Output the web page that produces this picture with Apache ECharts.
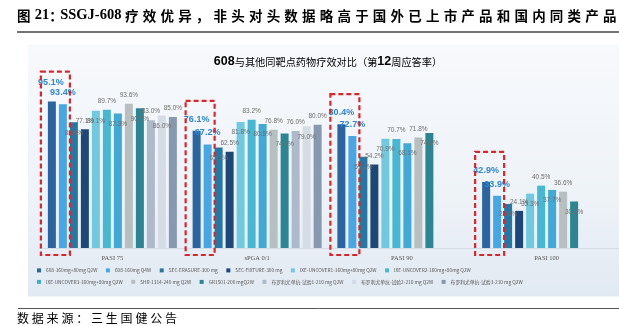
<!DOCTYPE html>
<html>
<head>
<meta charset="utf-8">
<script src="https://cdn.jsdelivr.net/npm/echarts@6/dist/echarts.min.js"></script>
<style>
  html, body { margin: 0; padding: 0; background: #ffffff; }
  #chart { width: 619px; height: 326px; }
</style>
</head>
<body>
<div id="chart"></div>
<script>
// Week-12 response rates (%) by endpoint
const categories = ['PASI 75', 'sPGA 0/1', 'PASI 90', 'PASI 100'];

const seriesNames = [
  '608-160mg+80mg Q2W',
  '608-160mg Q4W',
  'SEC-ERASURE-300 mg',
  'SEC-FIXTURE-300 mg',
  'IXE-UNCOVER1-160mg+80mg Q2W',
  'IXE-UNCOVER2-160mg+80mg Q2W',
  'IXE-UNCOVER3-160mg+80mg Q2W',
  'SHR-1314-240 mg Q2W',
  'GR1501-200 mgQ2W',
  '布罗利尤单抗-试验1-210 mg Q2W',
  '布罗利尤单抗-试验2-210 mg Q2W',
  '布罗利尤单抗-试验3-210 mg Q2W'
];

const v608Q2W     = [95.1, 76.1, 80.4, 42.9];
const v608Q4W     = [93.4, 67.2, 72.7, 33.9];
const secErasure  = [81.6, 65.3, 59.2, 28.6];
const secFixture  = [77.1, 62.5, 54.2, 24.1];
const ixeUncover1 = [89.1, 81.8, 70.9, 35.3];
const ixeUncover2 = [89.7, 83.2, 70.7, 40.5];
const ixeUncover3 = [87.3, 80.5, 68.1, 37.7];
const shr1314     = [93.6, 76.8, 71.8, 36.6];
const gr1501      = [90.7, 74.4, 74.6, 30.2];
const brodalumab1 = [83.0, 76.0, '-', '-'];
const brodalumab2 = [86.0, 79.0, '-', '-'];
const brodalumab3 = [85.0, 80.0, '-', '-'];

const seriesValues = [
  v608Q2W, v608Q4W, secErasure, secFixture, ixeUncover1, ixeUncover2,
  ixeUncover3, shr1314, gr1501, brodalumab1, brodalumab2, brodalumab3
];

const palette = [
  '#2a65a2', '#46a7e4', '#2678a4', '#1d4778', '#70c9de', '#47b8d3',
  '#40a9d6', '#b7bfc0', '#2b8592', '#aeb9ca', '#d6dce6', '#8799ae'
];

const BAR_W = 8;
const BAR_GAP_PX = 3;
const SLOT = BAR_W + BAR_GAP_PX;

const chart = echarts.init(document.getElementById('chart'), null, { renderer: 'canvas' });

// Build rich text where every CJK glyph sits in a fixed-width cell
function richSpaced(str, cjkKey, latinKey) {
  let out = '';
  let run = '';
  for (const ch of str) {
    const code = ch.codePointAt(0);
    if (code >= 0x2E80) {
      if (run) { out += '{' + latinKey + '|' + run + '}'; run = ''; }
      out += '{' + cjkKey + '|' + ch + '}';
    } else {
      run += ch;
    }
  }
  if (run) out += '{' + latinKey + '|' + run + '}';
  return out;
}

const numLabelBase = {
  show: true,
  fontFamily: '"Liberation Sans Narrow", "Arial Narrow", sans-serif',
  fontSize: 6.5,
  color: '#6e6e6e',
  formatter: p => (typeof p.value === 'number' ? p.value.toFixed(1) + '%' : '')
};

function labelFor(i) {
  if (i < 2) {
    return Object.assign({}, numLabelBase, {
      position: 'top',
      distance: 5,
      offset: [0, -2],
      fontSize: 9,
      fontWeight: 'bold',
      color: '#2f86d4'
    });
  }
  if (i % 2 === 0) {
    return Object.assign({}, numLabelBase, { position: 'insideTop', distance: 5, offset: [0, 2] });
  }
  return Object.assign({}, numLabelBase, { position: 'top', distance: 4, offset: [0, -1] });
}

// When the two SSGJ-608 values are close, lift the first label so both stay readable
function seriesData(i) {
  const vals = seriesValues[i];
  if (i !== 0) return vals;
  return vals.map((v, j) => {
    const close = typeof v === 'number' && (v - v608Q4W[j]) < 4;
    return close ? { value: v, label: { offset: [-1, -10] } } : v;
  });
}

const barSeries = seriesNames.map((name, i) => ({
  name: name,
  type: 'bar',
  data: seriesData(i),
  barWidth: BAR_W,
  barGap: (BAR_GAP_PX / BAR_W * 100) + '%',
  itemStyle: { color: palette[i] },
  label: labelFor(i),
  z: 3
}));

// Dashed highlight frames around the two SSGJ-608 regimens in each group
const highlightSeries = {
  type: 'custom',
  name: 'highlight',
  clip: false,
  silent: true,
  z: 5,
  data: categories.map((c, i) => [i, v608Q2W[i]]),
  renderItem: function (params, api) {
    const top = api.coord([api.value(0), api.value(1)]);
    const base = api.coord([api.value(0), 0]);
    const n = seriesNames.length;
    const firstCenter = top[0] - (n - 1) / 2 * SLOT;
    const secondCenter = firstCenter + SLOT;
    const x0 = firstCenter - 11;
    const x1 = secondCenter + 7;
    const y0 = top[1] - 30;
    const y1 = base[1] + 7;
    return {
      type: 'rect',
      shape: { x: x0, y: y0, width: x1 - x0, height: y1 - y0 },
      style: { fill: null, stroke: '#d9262b', lineWidth: 2.2, lineDash: [5, 3] }
    };
  }
};

const legendFont = '"Liberation Sans Narrow", "Arial Narrow", "Noto Sans CJK SC", sans-serif';
const legendText = {
  fontFamily: legendFont,
  fontSize: 4.8,
  color: '#555',
  rich: { n: { width: 80, fontSize: 4.8, color: '#555', fontFamily: legendFont } }
};

function legendRow(names, top) {
  return {
    data: names,
    left: 37,
    top: top,
    orient: 'horizontal',
    icon: 'rect',
    itemWidth: 4,
    itemHeight: 4,
    itemGap: 8.5,
    padding: 0,
    selectedMode: false,
    formatter: name => '{n|' + name + '}',
    textStyle: legendText
  };
}

const titleText = '图21：SSGJ-608 疗效优异，非头对头数据略高于国外已上市产品和国内同类产品';
const subTitleText = '608与其他同靶点药物疗效对比（第12周应答率）';
const sourceText = '数据来源：三生国健公告';

const option = {
  animation: false,
  backgroundColor: '#ffffff',
  grid: { left: 40, right: -13, top: 94, bottom: 78, containLabel: false },
  xAxis: {
    type: 'category',
    data: categories,
    axisTick: { show: false },
    axisLine: { show: true, lineStyle: { color: '#d3dbe5', width: 1 } },
    axisLabel: {
      margin: 7,
      fontFamily: '"Liberation Serif", serif',
      fontSize: 6.5,
      color: '#555'
    }
  },
  yAxis: {
    type: 'value',
    min: 0,
    max: 100,
    show: false
  },
  legend: [
    legendRow(seriesNames.slice(0, 6), 268),
    legendRow(seriesNames.slice(6), 279.5)
  ],
  graphic: [
    {
      type: 'rect',
      z: -10,
      shape: { x: 28, y: 44.5, width: 591, height: 252 },
      style: {
        fill: new echarts.graphic.LinearGradient(0, 0, 0, 1, [
          { offset: 0, color: '#f7f9fc' },
          { offset: 0.6, color: '#eef3f8' },
          { offset: 1, color: '#e1e9f2' }
        ])
      }
    },
    {
      type: 'text',
      left: 17,
      top: 8,
      style: {
        text: richSpaced(titleText.replace('：', '\u0000'), 'k', 'l').replace('\u0000', '}{p|：}{l|'),
        rich: {
          k: { fontFamily: '"Noto Sans CJK SC"', fontWeight: 'bold', fontSize: 13.5, width: 17.7, color: '#1d3c74' },
          p: { fontFamily: '"Noto Sans CJK SC"', fontWeight: 'bold', fontSize: 13.5, width: 11, color: '#1d3c74' },
          l: { fontFamily: '"Liberation Serif", serif', fontWeight: 'bold', fontSize: 14.5, color: '#1d3c74' }
        }
      }
    },
    {
      type: 'line',
      shape: { x1: 17, y1: 32, x2: 619, y2: 32 },
      style: { stroke: '#444', lineWidth: 1.5 }
    },
    {
      type: 'text',
      x: 328,
      y: 62,
      style: {
        text: richSpaced(subTitleText, 'c', 'd'),
        align: 'center',
        verticalAlign: 'middle',
        rich: {
          c: { fontFamily: '"Noto Sans CJK SC"', fontSize: 10.2, color: '#34506f' },
          d: { fontFamily: '"Liberation Sans Narrow", "Arial Narrow", sans-serif', fontWeight: 'bold', fontSize: 12.5, color: '#34506f' }
        }
      }
    },
    {
      type: 'line',
      shape: { x1: 18, y1: 308.5, x2: 619, y2: 308.5 },
      style: { stroke: '#555', lineWidth: 1 }
    },
    {
      type: 'text',
      left: 17,
      top: 312,
      style: {
        text: richSpaced(sourceText, 'k', 'l'),
        rich: {
          k: { fontFamily: '"Noto Sans CJK SC"', fontSize: 12, width: 14.8, color: '#333' },
          l: { fontFamily: '"Noto Sans CJK SC"', fontSize: 12, color: '#333' }
        }
      }
    }
  ],
  series: barSeries.concat([highlightSeries])
};

chart.setOption(option);
</script>
</body>
</html>
